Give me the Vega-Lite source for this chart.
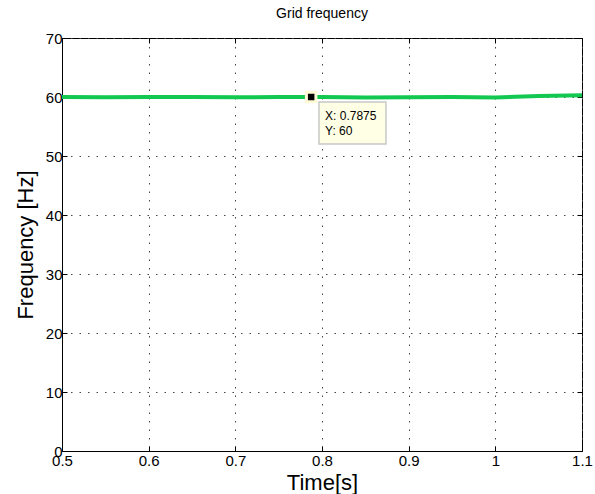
{
  "$schema": "https://vega.github.io/schema/vega-lite/v6.json",
  "width": 520,
  "height": 413,
  "autosize": "none",
  "padding": {"left": 62, "top": 38, "right": 13, "bottom": 43},
  "background": "white",
  "title": {"text": "Grid frequency", "fontSize": 14, "font": "Liberation Sans", "fontWeight": "normal", "color": "black", "offset": 10, "anchor": "middle"},
  "config": {
    "view": {"stroke": "black", "strokeWidth": 1},
    "axis": {
      "labelFont": "Liberation Sans", "titleFont": "Liberation Sans",
      "labelFontSize": 15, "titleFontSize": 22, "titleFontWeight": "normal",
      "labelColor": "black", "titleColor": "black",
      "domainColor": "black", "tickColor": "black",
      "gridColor": "#444", "gridDash": [1.5, 7], "gridWidth": 1, "gridOpacity": 1
    }
  },
  "datasets": {
    "freq": [
      {"t": 0.5, "f": 60.0}, {"t": 0.55, "f": 59.96}, {"t": 0.6, "f": 60.0}, {"t": 0.65, "f": 60.02},
      {"t": 0.7, "f": 59.95}, {"t": 0.75, "f": 59.98}, {"t": 0.7875, "f": 60.0}, {"t": 0.8, "f": 60.02},
      {"t": 0.85, "f": 59.93}, {"t": 0.9, "f": 59.95}, {"t": 0.95, "f": 60.0}, {"t": 1.0, "f": 59.92},
      {"t": 1.05, "f": 60.15}, {"t": 1.1, "f": 60.28}
    ],
    "tip": [{"t": 0.7875, "f": 60}],
    "tipbox": [{"x0": 0.7965, "x1": 0.8738, "y0": 52.03, "y1": 59.15}],
    "tiptext": [{"t": 0.8035, "f": 56.8, "label": "X: 0.7875"}, {"t": 0.8035, "f": 54.25, "label": "Y: 60"}]
  },
  "layer": [
    {
      "data": {"name": "freq"},
      "mark": {"type": "line", "color": "#12c850", "strokeWidth": 4, "clip": true},
      "encoding": {
        "x": {"field": "t", "type": "quantitative", "scale": {"domain": [0.5, 1.1], "nice": false, "zero": false},
              "axis": {"title": "Time[s]", "values": [0.5, 0.6, 0.7, 0.8, 0.9, 1, 1.1], "format": "~g", "tickSize": -5, "labelPadding": 7, "titlePadding": 4, "labelFlush": false}},
        "y": {"field": "f", "type": "quantitative", "scale": {"domain": [0, 70], "nice": false},
              "axis": {"title": "Frequency [Hz]", "values": [0, 10, 20, 30, 40, 50, 60, 70], "tickSize": -5, "labelPadding": 5, "titlePadding": 8}}
      }
    },
    {
      "data": {"name": "tipbox"},
      "mark": {"type": "rect", "fill": "#ffffe6", "stroke": "#c8c8c8", "strokeWidth": 1.5},
      "encoding": {
        "x": {"field": "x0", "type": "quantitative", "axis": null},
        "x2": {"field": "x1"},
        "y": {"field": "y0", "type": "quantitative", "axis": null},
        "y2": {"field": "y1"}
      }
    },
    {
      "data": {"name": "tiptext"},
      "mark": {"type": "text", "align": "left", "baseline": "middle", "font": "Liberation Sans", "fontSize": 12, "color": "black"},
      "encoding": {
        "x": {"field": "t", "type": "quantitative", "axis": null},
        "y": {"field": "f", "type": "quantitative", "axis": null},
        "text": {"field": "label"}
      }
    },
    {
      "data": {"name": "tip"},
      "mark": {"type": "square", "filled": true, "color": "black", "stroke": "#fffbd6", "strokeWidth": 3, "size": 90, "opacity": 1},
      "encoding": {
        "x": {"field": "t", "type": "quantitative",
              "axis": {"orient": "top", "title": null, "labels": false, "grid": false, "domain": false, "values": [0.5, 0.6, 0.7, 0.8, 0.9, 1, 1.1], "tickSize": -5}},
        "y": {"field": "f", "type": "quantitative",
              "axis": {"orient": "right", "title": null, "labels": false, "grid": false, "domain": false, "values": [0, 10, 20, 30, 40, 50, 60, 70], "tickSize": -5}}
      }
    }
  ],
  "resolve": {"axis": {"x": "independent", "y": "independent"}}
}
